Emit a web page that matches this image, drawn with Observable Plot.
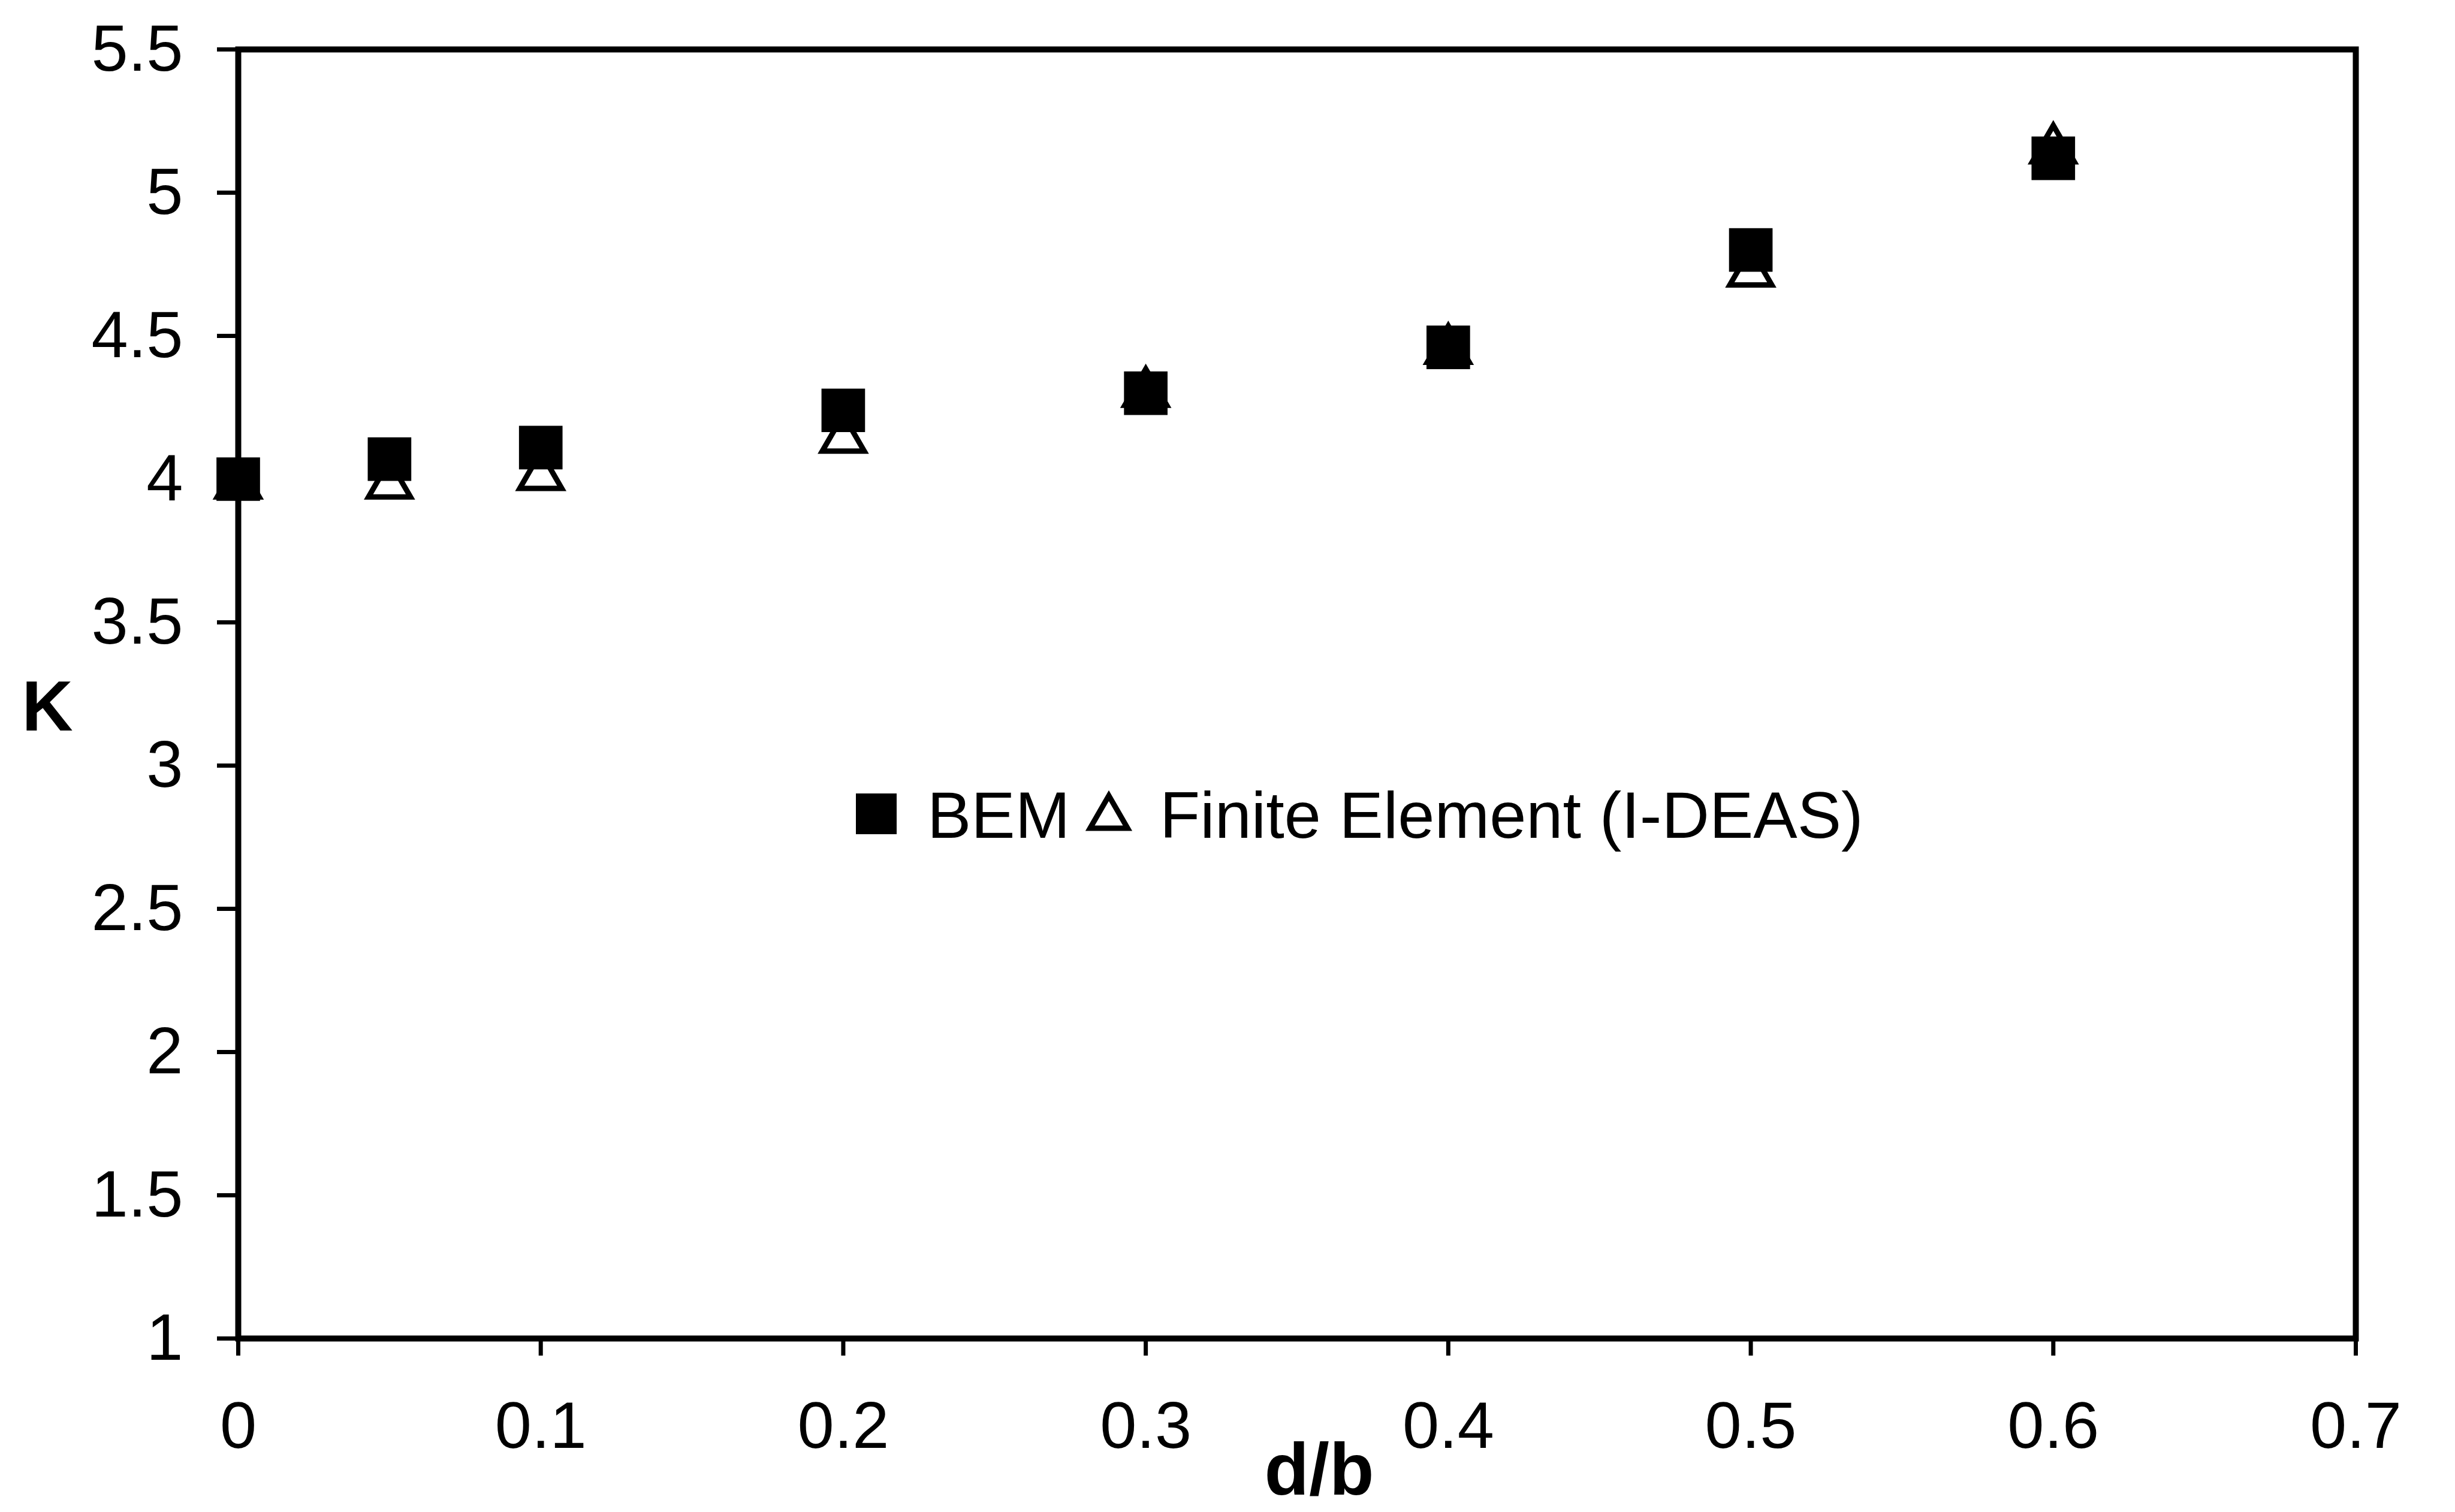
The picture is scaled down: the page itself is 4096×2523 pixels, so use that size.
<!DOCTYPE html>
<html>
<head>
<meta charset="utf-8">
<script src="https://cdn.jsdelivr.net/npm/d3@7"></script>
<script src="https://cdn.jsdelivr.net/npm/@observablehq/plot@0.6"></script>
<style>
  html, body { margin: 0; padding: 0; background: #fff; }
  #chart { width: 4096px; height: 2523px; overflow: hidden; background: #fff; }
</style>
</head>
<body>
<div id="chart"></div>
<script>
// ---- data ----
const dOverB = [0, 0.05, 0.1, 0.2, 0.3, 0.4, 0.5, 0.6];
const kBEM   = [4.00, 4.07, 4.11, 4.24, 4.30, 4.46, 4.80, 5.12];
const kFE    = [3.98, 3.98, 4.01, 4.14, 4.30, 4.45, 4.72, 5.15];
const xTicks = [0, 0.1, 0.2, 0.3, 0.4, 0.5, 0.6, 0.7];
const yTicks = [1, 1.5, 2, 2.5, 3, 3.5, 4, 4.5, 5, 5.5];
const seriesNames = ["BEM", "Finite Element (I-DEAS)"];
const xLabel = "d/b";
const yLabel = "K";

const rows = dOverB.map((x, i) => ({x, bem: kBEM[i], fe: kFE[i]}));

const W = 4096, H = 2523;
const FONT = "'Liberation Sans', Arial, Helvetica, sans-serif";
const squareR = 41, triR = 26;

const chart = Plot.plot({
  width: W,
  height: H,
  marginLeft: 397,
  marginRight: 166,
  marginTop: 82,
  marginBottom: 290,
  style: {fontFamily: FONT, fontSize: "110px", color: "black", background: "white"},
  x: {domain: [0, 0.7]},
  y: {domain: [1, 5.5]},
  marks: [
    Plot.axisX({ticks: xTicks, tickSize: 29, tickPadding: 75, strokeWidth: 7, label: null, tickFormat: d => String(d)}),
    Plot.axisY({ticks: yTicks, tickSize: 35, tickPadding: 57, strokeWidth: 7, label: null, tickFormat: d => String(d)}),
    Plot.frame({stroke: "black", strokeWidth: 10}),
    Plot.dot(rows, {x: "x", y: "fe", symbol: "triangle", r: triR, fill: "white", stroke: "black", strokeWidth: 9}),
    Plot.dot(rows, {x: "x", y: "bem", symbol: "square", r: squareR, fill: "black", stroke: "none"})
  ]
});

document.getElementById("chart").appendChild(chart);

// ---- axis titles and in-plot legend (layout overlay) ----
const svg = d3.select(chart);

svg.append("text")
  .attr("x", 79).attr("y", 1219)
  .attr("text-anchor", "middle")
  .attr("font-family", FONT).attr("font-weight", "bold").attr("font-size", 118)
  .attr("fill", "black")
  .text(yLabel);

svg.append("text")
  .attr("x", 2201).attr("y", 2494)
  .attr("text-anchor", "middle")
  .attr("font-family", FONT).attr("font-weight", "bold").attr("font-size", 122)
  .attr("fill", "black")
  .text(xLabel);

const lg = svg.append("g")
  .attr("font-family", FONT).attr("font-size", 110)
  .attr("fill", "black").attr("text-anchor", "start");
lg.append("path")
  .attr("transform", "translate(1462,1358)")
  .attr("d", d3.symbol(d3.symbolSquare, 68 * 68)())
  .attr("fill", "black");
lg.append("text").attr("x", 1547).attr("y", 1398).attr("text-anchor", "start").text(seriesNames[0]);
lg.append("path")
  .attr("transform", "translate(1850,1364)")
  .attr("d", d3.symbol(d3.symbolTriangle, Math.PI * triR * triR * 0.8)())
  .attr("fill", "white").attr("stroke", "black").attr("stroke-width", 9);
lg.append("text").attr("x", 1935).attr("y", 1398).attr("text-anchor", "start").text(seriesNames[1]);
</script>
</body>
</html>
